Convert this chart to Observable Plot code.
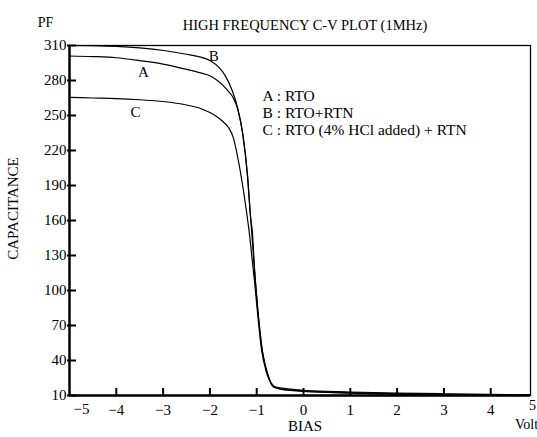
<!DOCTYPE html>
<html><head><meta charset="utf-8">
<script src="https://cdn.jsdelivr.net/npm/d3@7"></script>
<script src="https://cdn.jsdelivr.net/npm/@observablehq/plot@0.6"></script>
<style>body{margin:0;background:#fff}</style>
</head><body><div id="chart"></div>
<script>
// Curve A : RTO
const biasA = [-5, -4.5, -4, -3.5, -3, -2.5, -2.2, -2, -1.84, -1.7, -1.6, -1.5, -1.41, -1.3, -1.2, -1.13, -1.05, -0.98, -0.88, -0.77, -0.64, -0.49, 0, 1, 2, 3, 4, 4.85];
const capA  = [301, 300.5, 299.5, 297, 294, 289.5, 286.5, 284, 280, 275, 270.5, 265, 256, 235, 200, 162, 120, 85, 48, 29, 18, 16.5, 14.5, 13, 12, 11.5, 11, 10.5];
// Curve B : RTO + RTN
const biasB = [-5, -4.2, -3.5, -2.95, -2.5, -2.24, -1.99, -1.8, -1.67, -1.52, -1.41, -1.3, -1.2, -1.13, -1.09, -1.05, -0.98, -0.88, -0.77, -0.64, -0.49, 0, 1, 2, 3, 4, 4.85];
const capB  = [310, 309.5, 308, 305.5, 302.5, 300.5, 297, 291, 284, 271, 257, 234.5, 200, 162.5, 149, 120, 85, 48.5, 29, 17, 15.5, 13.5, 12, 11, 10.5, 10.3, 10];
// Curve C : RTO (4% HCl added) + RTN
const biasC = [-5, -4.5, -4, -3.5, -3, -2.5, -2.2, -2, -1.85, -1.7, -1.6, -1.5, -1.4, -1.3, -1.22, -1.16, -1.1, -1.04, -0.98, -0.9, -0.8, -0.66, -0.5, 0, 1, 2, 3, 4, 4.85];
const capC  = [265.5, 265, 264.5, 263.5, 262, 259, 256, 252.5, 249, 244, 239.5, 231, 213, 190, 168, 150, 128, 105, 80, 50, 31, 19, 15.5, 14, 12.5, 11.5, 11, 10.8, 10.2];

const curveNames = ["A", "B", "C"];
const labelBias = [-3.42, -1.92, -3.59];
const labelCap = [287, 301, 253];

const xTicks = [-4, -3, -2, -1, 0, 1, 2, 3, 4];
const yTicks = [10, 40, 70, 100, 130, 160, 190, 220, 250, 280, 310];
const legendLines = ["A : RTO", "B : RTO+RTN", "C : RTO (4% HCl added) + RTN"];
const titleText = "HIGH FREQUENCY C-V PLOT (1MHz)";

const series = [[biasA, capA], [biasB, capB], [biasC, capC]];
const rows = series.flatMap(([b, c], k) => b.map((v, i) => ({curve: curveNames[k], bias: v, cap: c[i]})));
const labels = curveNames.map((n, i) => ({name: n, bias: labelBias[i], cap: labelCap[i]}));

const chart = Plot.plot({
  width: 537, height: 437,
  marginLeft: 69, marginRight: 7, marginTop: 45, marginBottom: 42,
  style: {fontFamily: "'Liberation Serif', serif", fontSize: "15px", color: "#000", background: "#fff"},
  x: {domain: [-5, 4.85], label: null},
  y: {domain: [10, 310], label: null},
  marks: [
    Plot.frame({stroke: "#000", strokeWidth: 1.3}),
    Plot.ruleX([-5], {stroke: "#000", strokeWidth: 2.4}),
    Plot.ruleY([10], {stroke: "#000", strokeWidth: 2.4}),
    Plot.tickX(xTicks, {x: d => d, insetTop: 343, stroke: "#000", strokeWidth: 2}),
    Plot.tickY(yTicks, {y: d => d, insetRight: 452, dx: -2, stroke: "#000", strokeWidth: 2}),
    Plot.axisX(xTicks, {tickSize: 0, tickPadding: 9, fontSize: 15}),
    Plot.axisY(yTicks, {tickSize: 0, tickPadding: 3, fontSize: 15}),
    Plot.line(rows, {x: "bias", y: "cap", z: "curve", stroke: "#000", strokeWidth: 1.2, curve: "monotone-x"}),
    Plot.text(labels, {x: "bias", y: "cap", text: "name", fontSize: 15}),
    Plot.text(["−5"], {frameAnchor: "bottom-left", textAnchor: "middle", lineAnchor: "top", dx: 12, dy: 8, fontSize: 15}),
    Plot.text(["5"], {frameAnchor: "bottom-right", textAnchor: "middle", lineAnchor: "top", dx: 2, dy: 5, fontSize: 14}),
    Plot.text([legendLines.join("\n")], {frameAnchor: "top-left", textAnchor: "start", lineAnchor: "middle", lineHeight: 1.1, dx: 193, dy: 67, fontSize: 15.5}),
    Plot.text([titleText], {frameAnchor: "top", textAnchor: "middle", dx: 5, dy: -26, fontSize: 14.5}),
    Plot.text(["PF"], {frameAnchor: "top-left", textAnchor: "middle", dx: -24, dy: -28, fontSize: 14}),
    Plot.text(["CAPACITANCE"], {frameAnchor: "left", textAnchor: "middle", rotate: -90, dx: -56, dy: -12, fontSize: 15}),
    Plot.text(["BIAS"], {frameAnchor: "bottom", textAnchor: "middle", dx: 5, dy: 35, fontSize: 15}),
    Plot.text(["Volt"], {frameAnchor: "bottom-right", textAnchor: "middle", dx: -4, dy: 33, fontSize: 14})
  ]
});
document.getElementById("chart").append(chart);
</script>
</body></html>
